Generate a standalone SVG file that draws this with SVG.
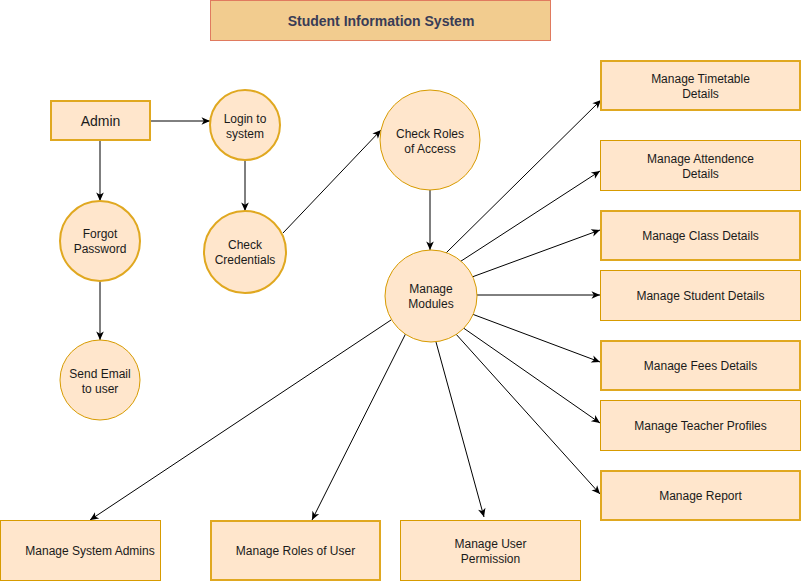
<svg xmlns="http://www.w3.org/2000/svg" width="802" height="582" viewBox="0 0 802 582">
<style>
.n{fill:#ffe6cc;stroke:#d79b00;stroke-width:1}
.t{fill:#ffe6cc;stroke:#e0a820;stroke-width:2}
.l{font-family:"Liberation Sans",Arial,sans-serif;font-size:12px;fill:#1a1a1a;text-anchor:middle}
.e{stroke:#000;stroke-width:1;fill:none;marker-end:url(#a)}
</style>
<defs>
<marker id="a" markerUnits="userSpaceOnUse" markerWidth="10" markerHeight="10" viewBox="0 0 10 10" refX="9" refY="5" orient="auto">
<path d="M0.5,1.2 L9,5 L0.5,8.8 L2.8,5 z" fill="#000"/>
</marker>
</defs>
<rect width="802" height="582" fill="#fff"/>
<g id="title">
<rect x="210.5" y="0.5" width="340" height="40" fill="#f2cc8f" stroke="#e07a5f"/>
<text x="381" y="25.5" style="font-family:'Liberation Sans',Arial,sans-serif;font-size:14px;font-weight:bold;fill:#393c56;text-anchor:middle">Student Information System</text>
</g>
<g id="connectors">
<line class="e" x1="150" y1="121" x2="210" y2="121"/>
<line x1="100" y1="140" x2="100" y2="196" stroke="#555" stroke-width="1.5"/>
<line class="e" x1="100" y1="194" x2="100" y2="201"/>
<line class="e" x1="100" y1="281" x2="100" y2="340"/>
<line class="e" x1="245" y1="160" x2="245" y2="211"/>
<line class="e" x1="283" y1="233" x2="381" y2="130"/>
<line class="e" x1="430" y1="190" x2="430" y2="250"/>
<line class="e" x1="446" y1="253" x2="601" y2="100"/>
<line class="e" x1="455" y1="265" x2="600" y2="171"/>
<line class="e" x1="472" y1="277" x2="600" y2="230"/>
<line class="e" x1="477" y1="295" x2="600" y2="295"/>
<line class="e" x1="472" y1="314" x2="600" y2="362"/>
<line class="e" x1="462" y1="327" x2="600" y2="423"/>
<line class="e" x1="455" y1="333" x2="600" y2="494"/>
<line class="e" x1="391" y1="320" x2="90" y2="520"/>
<line class="e" x1="407" y1="331" x2="312" y2="520"/>
<line class="e" x1="436" y1="342" x2="484" y2="517"/>
</g>
<g id="admin"><rect class="t" x="51" y="101" width="99" height="39"/><text class="l" x="100.5" y="126" style="font-size:14px">Admin</text></g>
<g id="login"><circle class="t" cx="245" cy="125" r="35"/><text class="l" x="245" y="123">Login to</text><text class="l" x="245" y="138">system</text></g>
<g id="check-credentials"><circle class="t" cx="245" cy="252" r="41"/><text class="l" x="245" y="249">Check</text><text class="l" x="245" y="264">Credentials</text></g>
<g id="forgot"><circle class="t" cx="100" cy="241" r="40"/><text class="l" x="100" y="238">Forgot</text><text class="l" x="100" y="253">Password</text></g>
<g id="send-email"><circle class="n" cx="100" cy="380" r="40"/><text class="l" x="100" y="378">Send Email</text><text class="l" x="100" y="393">to user</text></g>
<g id="check-roles"><circle class="n" cx="430" cy="140" r="50"/><text class="l" x="430" y="138">Check Roles</text><text class="l" x="430" y="153">of Access</text></g>
<g id="manage-modules"><circle class="n" cx="431" cy="296" r="46"/><text class="l" x="431" y="293">Manage</text><text class="l" x="431" y="308">Modules</text></g>
<g id="timetable"><rect class="t" x="601" y="61" width="199" height="49"/><text class="l" x="700.5" y="83">Manage Timetable</text><text class="l" x="700.5" y="98">Details</text></g>
<g id="attendence"><rect class="n" x="600.5" y="140.5" width="200" height="50"/><text class="l" x="700.5" y="163">Manage Attendence</text><text class="l" x="700.5" y="178">Details</text></g>
<g id="class"><rect class="t" x="601" y="211" width="199" height="49"/><text class="l" x="700.5" y="240">Manage Class Details</text></g>
<g id="student"><rect class="n" x="600.5" y="270.5" width="200" height="50"/><text class="l" x="700.5" y="300">Manage Student Details</text></g>
<g id="fees"><rect class="t" x="601" y="341" width="199" height="49"/><text class="l" x="700.5" y="370">Manage Fees Details</text></g>
<g id="teacher"><rect class="n" x="600.5" y="400.5" width="200" height="50"/><text class="l" x="700.5" y="430">Manage Teacher Profiles</text></g>
<g id="report"><rect class="t" x="601" y="471" width="199" height="49"/><text class="l" x="700.5" y="500">Manage Report</text></g>
<g id="system-admins"><rect class="n" x="0.5" y="520.5" width="160" height="60"/><text class="l" x="90" y="555">Manage System Admins</text></g>
<g id="roles-user"><rect class="t" x="211" y="521" width="169" height="59"/><text class="l" x="295.5" y="555">Manage Roles of User</text></g>
<g id="user-permission"><rect class="n" x="400.5" y="520.5" width="180" height="60"/><text class="l" x="490.5" y="548">Manage User</text><text class="l" x="490.5" y="563">Permission</text></g>
</svg>
